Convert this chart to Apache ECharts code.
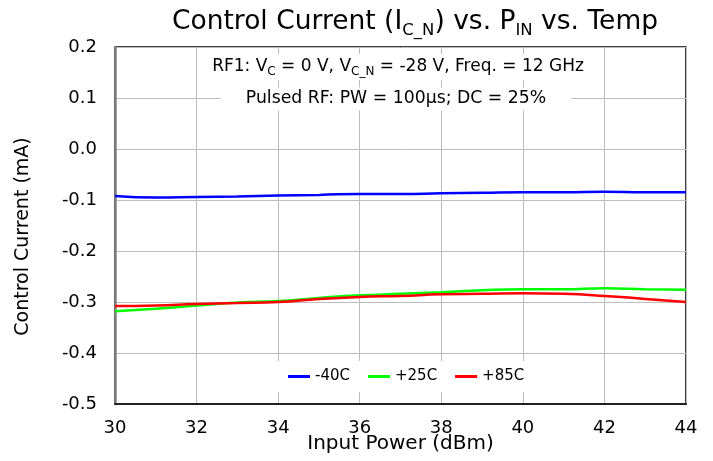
<!DOCTYPE html>
<html>
<head>
<meta charset="utf-8">
<script src="https://cdn.jsdelivr.net/npm/echarts@6/dist/echarts.min.js"></script>
<style>html,body{margin:0;padding:0;background:#fff}#c{width:713px;height:461px}</style>
</head>
<body>
<div id="c"></div>
<script>
const inputPower = [30, 31, 32, 33, 34, 35, 36, 37, 38, 39, 40, 41, 42, 43, 44];
const cold = [-0.092, -0.095, -0.094, -0.093, -0.091, -0.090, -0.088, -0.088, -0.087, -0.086, -0.085, -0.085, -0.084, -0.085, -0.085];
const room = [-0.318, -0.313, -0.307, -0.301, -0.298, -0.292, -0.287, -0.284, -0.281, -0.277, -0.275, -0.275, -0.273, -0.275, -0.276];
const hot  = [-0.308, -0.307, -0.304, -0.302, -0.300, -0.294, -0.290, -0.288, -0.285, -0.284, -0.283, -0.284, -0.288, -0.294, -0.300];
const seriesNames = ['-40C', '+25C', '+85C'];
const seriesColors = ['#0000ff', '#00ff00', '#ff0000'];
const yTicks = { min: -0.5, max: 0.2, step: 0.1 };
const xTicks = { min: 30, max: 44, step: 2 };

const FONT = '"DejaVu Sans", sans-serif';
const chart = echarts.init(document.getElementById('c'), null, { renderer: 'canvas' });

function pairs(ys) { return inputPower.map((x, i) => [x, ys[i]]); }
const allSeries = [cold, room, hot].map((d, i) => ({
  name: seriesNames[i],
  type: 'line',
  data: pairs(d),
  smooth: true,
  showSymbol: false,
  lineStyle: { color: seriesColors[i], width: 2.5 },
  itemStyle: { color: seriesColors[i] },
  z: 3
}));

chart.setOption({
  animation: false,
  backgroundColor: '#fff',
  textStyle: { fontFamily: FONT },
  grid: { left: 115, right: 27, top: 47, bottom: 57, outerBoundsMode: 'none', containLabel: false, show: true, borderColor: '#000', borderWidth: 1.5, backgroundColor: 'transparent' },
  xAxis: {
    type: 'value', min: xTicks.min, max: xTicks.max, interval: xTicks.step,
    name: 'Input Power (dBm)', nameLocation: 'middle', nameGap: 30, nameMoveOverlap: false,
    nameTextStyle: { fontSize: 20, color: '#000', fontFamily: FONT },
    axisLine: { show: true, onZero: false, lineStyle: { color: '#222', width: 2 } },
    axisTick: { show: false },
    axisLabel: { fontSize: 18, color: '#000', margin: 15, fontFamily: FONT },
    splitLine: { show: true, lineStyle: { color: '#bdbdbd', width: 1 } }
  },
  yAxis: {
    type: 'value', min: yTicks.min, max: yTicks.max, interval: yTicks.step,
    name: 'Control Current (mA)', nameLocation: 'middle', nameGap: 82, nameMoveOverlap: false,
    nameTextStyle: { fontSize: 19, color: '#000', fontFamily: FONT, padding: [0, 22, 0, 0] },
    axisLine: { show: true, lineStyle: { color: '#808080', width: 2.5 } },
    axisTick: { show: false },
    axisLabel: { fontSize: 18, color: '#000', margin: 18, fontFamily: FONT, formatter: v => v.toFixed(1) },
    splitLine: { show: true, lineStyle: { color: '#bdbdbd', width: 1 } }
  },
  legend: {
    data: seriesNames,
    top: 361, left: 216,
    icon: 'rect', itemWidth: 22, itemHeight: 3, itemGap: 18,
    backgroundColor: '#fff', padding: [8, 72],
    textStyle: { fontSize: 15, color: '#000', fontFamily: FONT }
  },
  graphic: [
    {
      type: 'text', z: 10,
      x: 415, y: 22,
      style: {
        text: '{a|Control Current (I}{s|C_N}{a|) vs. P}{s|IN}{a| vs. Temp}',
        align: 'center', verticalAlign: 'middle',
        rich: {
          a: { fontSize: 26.5, lineHeight: 34, fontFamily: FONT, fill: '#000' },
          s: { fontSize: 16.5, lineHeight: 16, verticalAlign: 'bottom', fontFamily: FONT, fill: '#000' }
        }
      }
    },
    {
      type: 'text', z: 10,
      x: 398, y: 67,
      style: {
        text: '{a|RF1: V}{s|C}{a| = 0 V, V}{s|C_N}{a| = -28 V, Freq. = 12 GHz}',
        align: 'center', verticalAlign: 'middle',
        backgroundColor: '#fff', padding: [2, 6],
        rich: {
          a: { fontSize: 17, lineHeight: 22, fontFamily: FONT, fill: '#000' },
          s: { fontSize: 12, lineHeight: 12, verticalAlign: 'bottom', fontFamily: FONT, fill: '#000' }
        }
      }
    },
    {
      type: 'text', z: 10,
      x: 396, y: 99,
      style: {
        text: 'Pulsed RF: PW = 100µs; DC = 25%',
        align: 'center', verticalAlign: 'middle',
        font: '17.3px ' + FONT, fill: '#000',
        backgroundColor: '#fff', padding: [3, 25]
      }
    }
  ],
  series: allSeries
});
</script>
</body>
</html>
